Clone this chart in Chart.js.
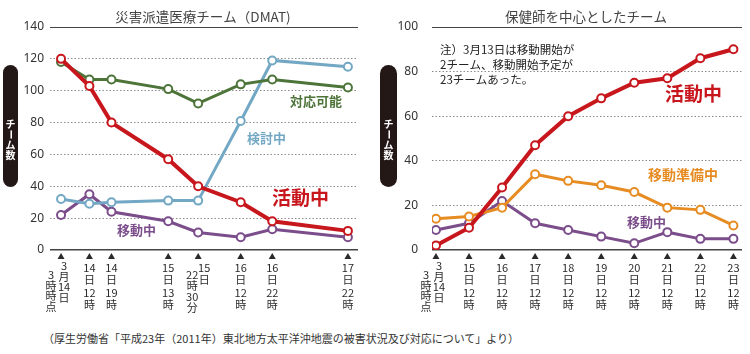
<!DOCTYPE html>
<html lang="ja">
<head>
<meta charset="utf-8">
<script src="https://cdn.jsdelivr.net/npm/chart.js@4.4.1/dist/chart.umd.min.js"></script>
<style>
  html, body { margin: 0; padding: 0; background: #fff; }
  #wrap { position: relative; width: 750px; height: 354px; }
  .box { position: absolute; top: 0; width: 375px; height: 320px; }
  #note { position: absolute; left: 43px; top: 330px; font: 11px 'Noto Sans CJK JP', sans-serif; color: #333; white-space: nowrap; }
</style>
</head>
<body>
<div id="wrap">
  <div class="box" style="left:0"><canvas id="dmat" width="375" height="320"></canvas></div>
  <div class="box" style="left:375px"><canvas id="hoken" width="375" height="320"></canvas></div>
  <div id="note">（厚生労働省「平成23年（2011年）東北地方太平洋沖地震の被害状況及び対応について」より）</div>
</div>
<script>
// 左: DMAT (横軸は3月14日3時からの経過時間)
const dmatHours = [0, 9, 16, 34, 43.5, 57, 67, 91];
const dmatTickLabels = [['3月14日', '3時時点'], ['14日12時'], ['14日19時'], ['15日13時'], ['15日', '22時30分'], ['16日12時'], ['16日22時'], ['17日22時']];
const dmatKatsudo = [120, 103, 80, 57, 40, 30, 18, 12];
const dmatTaio = [118, 107, 107, 101, 92, 104, 107, 102];
const dmatKento = [32, 29, 30, 31, 31, 81, 119, 115];
const dmatIdo = [22, 35, 24, 18, 11, 8, 13, 8];

// 右: 保健師チーム
const hokenTickLabels = [['3月14日', '3時時点'], ['15日12時'], ['16日12時'], ['17日12時'], ['18日12時'], ['19日12時'], ['20日12時'], ['21日12時'], ['22日12時'], ['23日12時']];
const hokenKatsudo = [2, 10, 28, 47, 60, 68, 75, 77, 86, 90];
const hokenJunbi = [14, 15, 19, 34, 31, 29, 26, 19, 18, 11];
const hokenIdo = [9, 12, 22, 12, 9, 6, 3, 8, 5, 5];

const RED = '#c8161d', GREEN = '#4d7439', BLUE = '#72a8c4', PURPLE = '#7b4d8b', ORANGE = '#e68c23';
const JP = '"Noto Sans CJK JP", sans-serif';

const tokens = s => s.match(/\d+|./g);

// 目盛りの▲と縦書きラベル
const tickLabelPlugin = {
  id: 'tickLabels',
  afterDraw(chart, args, opts) {
    const ctx = chart.ctx, xs = chart.scales.x;
    ctx.save();
    ctx.fillStyle = '#2a2a2a';
    ctx.font = '11px ' + JP;
    ctx.textAlign = 'center';
    ctx.textBaseline = 'middle';
    opts.values.forEach((v, i) => {
      const px = xs.getPixelForValue(v);
      ctx.beginPath();
      ctx.moveTo(px, 253);
      ctx.lineTo(px + 3.5, 259);
      ctx.lineTo(px - 3.5, 259);
      ctx.closePath();
      ctx.fill();
      const cols = opts.labels[i];
      if (cols.length === 1) {
        const ys = [268, 280, 293, 305];
        tokens(cols[0]).forEach((s, k) => ctx.fillText(s, px, ys[k]));
      } else if (tokens(cols[0]).length > 2) {
        tokens(cols[0]).forEach((s, k) => ctx.fillText(s, px + 3, 266 + k * 10.5));
        tokens(cols[1]).forEach((s, k) => ctx.fillText(s, px - 10, 275 + k * 10.5));
      } else {
        tokens(cols[0]).forEach((s, k) => ctx.fillText(s, px + 6, 268 + k * 12));
        tokens(cols[1]).forEach((s, k) => ctx.fillText(s, px - 6, 275 + k * 11));
      }
    });
    ctx.restore();
  }
};

// タイトル, 縦軸の帯, 系列名など
const decorPlugin = {
  id: 'decor',
  afterDraw(chart, args, opts) {
    const ctx = chart.ctx;
    ctx.save();
    ctx.fillStyle = '#444';
    ctx.font = '13.5px ' + JP;
    ctx.textAlign = 'center';
    ctx.textBaseline = 'middle';
    ctx.fillText(opts.title, opts.titleX, 17);

    // チーム数の帯
    const p = opts.pill;
    ctx.fillStyle = '#231815';
    ctx.beginPath();
    ctx.roundRect(p.x, 65, p.w, 122, p.w / 2);
    ctx.fill();
    ctx.fillStyle = '#fff';
    ctx.font = 'bold 10px ' + JP;
    ['チ', 'ー', 'ム', '数'].forEach((c, k) => {
      ctx.save();
      ctx.translate(p.x + p.w / 2, 124 + k * 10.5);
      if (c === 'ー') ctx.rotate(Math.PI / 2);
      ctx.fillText(c, 0, 0);
      ctx.restore();
    });

    ctx.textAlign = 'left';
    opts.names.forEach(n => {
      ctx.fillStyle = n.color;
      ctx.font = (n.bold === false ? '' : 'bold ') + n.size + 'px ' + JP;
      ctx.fillText(n.text, n.x, n.y);
    });
    ctx.restore();
  }
};

function lineSet(label, xs, ys, color, width) {
  return {
    label,
    data: ys.map((y, i) => ({ x: xs[i], y })),
    borderColor: color,
    borderWidth: width,
    pointRadius: 4,
    pointBorderWidth: 2,
    pointBackgroundColor: '#fff',
    pointBorderColor: color,
    tension: 0
  };
}

function yScale(max, width, pad) {
  const edge = c => c.tick && (c.tick.value === 0 || c.tick.value === max);
  return {
    min: 0, max,
    afterFit(scale) { scale.width = width; },
    ticks: { stepSize: 20, padding: pad, color: '#333', font: { family: '"Noto Sans", sans-serif', size: 12 } },
    grid: {
      drawTicks: false,
      color: c => edge(c) ? '#444' : '#8c8c8c',
      lineWidth: c => (c.tick && c.tick.value === 0) ? 1.6 : 1
    },
    border: { display: false, dash: c => edge(c) ? [] : [1.5, 2] }
  };
}

function makeChart(id, cfg) {
  return new Chart(document.getElementById(id), {
    type: 'line',
    data: { datasets: cfg.datasets },
    options: {
      responsive: false,
      animation: false,
      layout: { padding: cfg.padding },
      scales: {
        x: { type: 'linear', display: false, min: cfg.xMin, max: cfg.xMax },
        y: yScale(cfg.yMax, cfg.yWidth, cfg.yPad)
      },
      plugins: {
        legend: { display: false },
        tooltip: { enabled: false },
        tickLabels: { values: cfg.xValues, labels: cfg.tickLabels },
        decor: cfg.decor
      }
    },
    plugins: [tickLabelPlugin, decorPlugin]
  });
}

makeChart('dmat', {
  datasets: [
    lineSet('活動中', dmatHours, dmatKatsudo, RED, 4),
    lineSet('対応可能', dmatHours, dmatTaio, GREEN, 3),
    lineSet('検討中', dmatHours, dmatKento, BLUE, 3),
    lineSet('移動中', dmatHours, dmatIdo, PURPLE, 3)
  ],
  padding: { left: 20, right: 17, top: 27, bottom: 70 },
  xMin: -3.5, xMax: 94.2, yMax: 140, yWidth: 30, yPad: 6,
  xValues: dmatHours, tickLabels: dmatTickLabels,
  decor: {
    title: '災害派遣医療チーム（DMAT)', titleX: 203,
    pill: { x: 3, w: 15 },
    names: [
      { text: '対応可能', x: 290, y: 101, color: GREEN, size: 13 },
      { text: '検討中', x: 247, y: 138, color: BLUE, size: 13 },
      { text: '活動中', x: 272, y: 198, color: RED, size: 19 },
      { text: '移動中', x: 117, y: 230, color: PURPLE, size: 13 }
    ]
  }
});

const hokenIdx = hokenTickLabels.map((_, i) => i);
makeChart('hoken', {
  datasets: [
    lineSet('活動中', hokenIdx, hokenKatsudo, RED, 4),
    lineSet('移動準備中', hokenIdx, hokenJunbi, ORANGE, 3),
    lineSet('移動中', hokenIdx, hokenIdo, PURPLE, 3)
  ],
  padding: { left: 15, right: 8, top: 27, bottom: 70 },
  xMin: -0.12, xMax: 9.26, yMax: 100, yWidth: 42, yPad: 14,
  xValues: hokenIdx, tickLabels: hokenTickLabels,
  decor: {
    title: '保健師を中心としたチーム', titleX: 211,
    pill: { x: 5, w: 17 },
    names: [
      { text: '注）3月13日は移動開始が', x: 65, y: 50, color: '#222', size: 11.5, bold: false },
      { text: '2チーム、移動開始予定が', x: 65, y: 65, color: '#222', size: 11.5, bold: false },
      { text: '23チームあった。', x: 65, y: 80, color: '#222', size: 11.5, bold: false },
      { text: '活動中', x: 290, y: 94, color: RED, size: 19 },
      { text: '移動準備中', x: 273, y: 175, color: ORANGE, size: 14 },
      { text: '移動中', x: 252, y: 222, color: PURPLE, size: 13 }
    ]
  }
});
</script>
</body>
</html>
